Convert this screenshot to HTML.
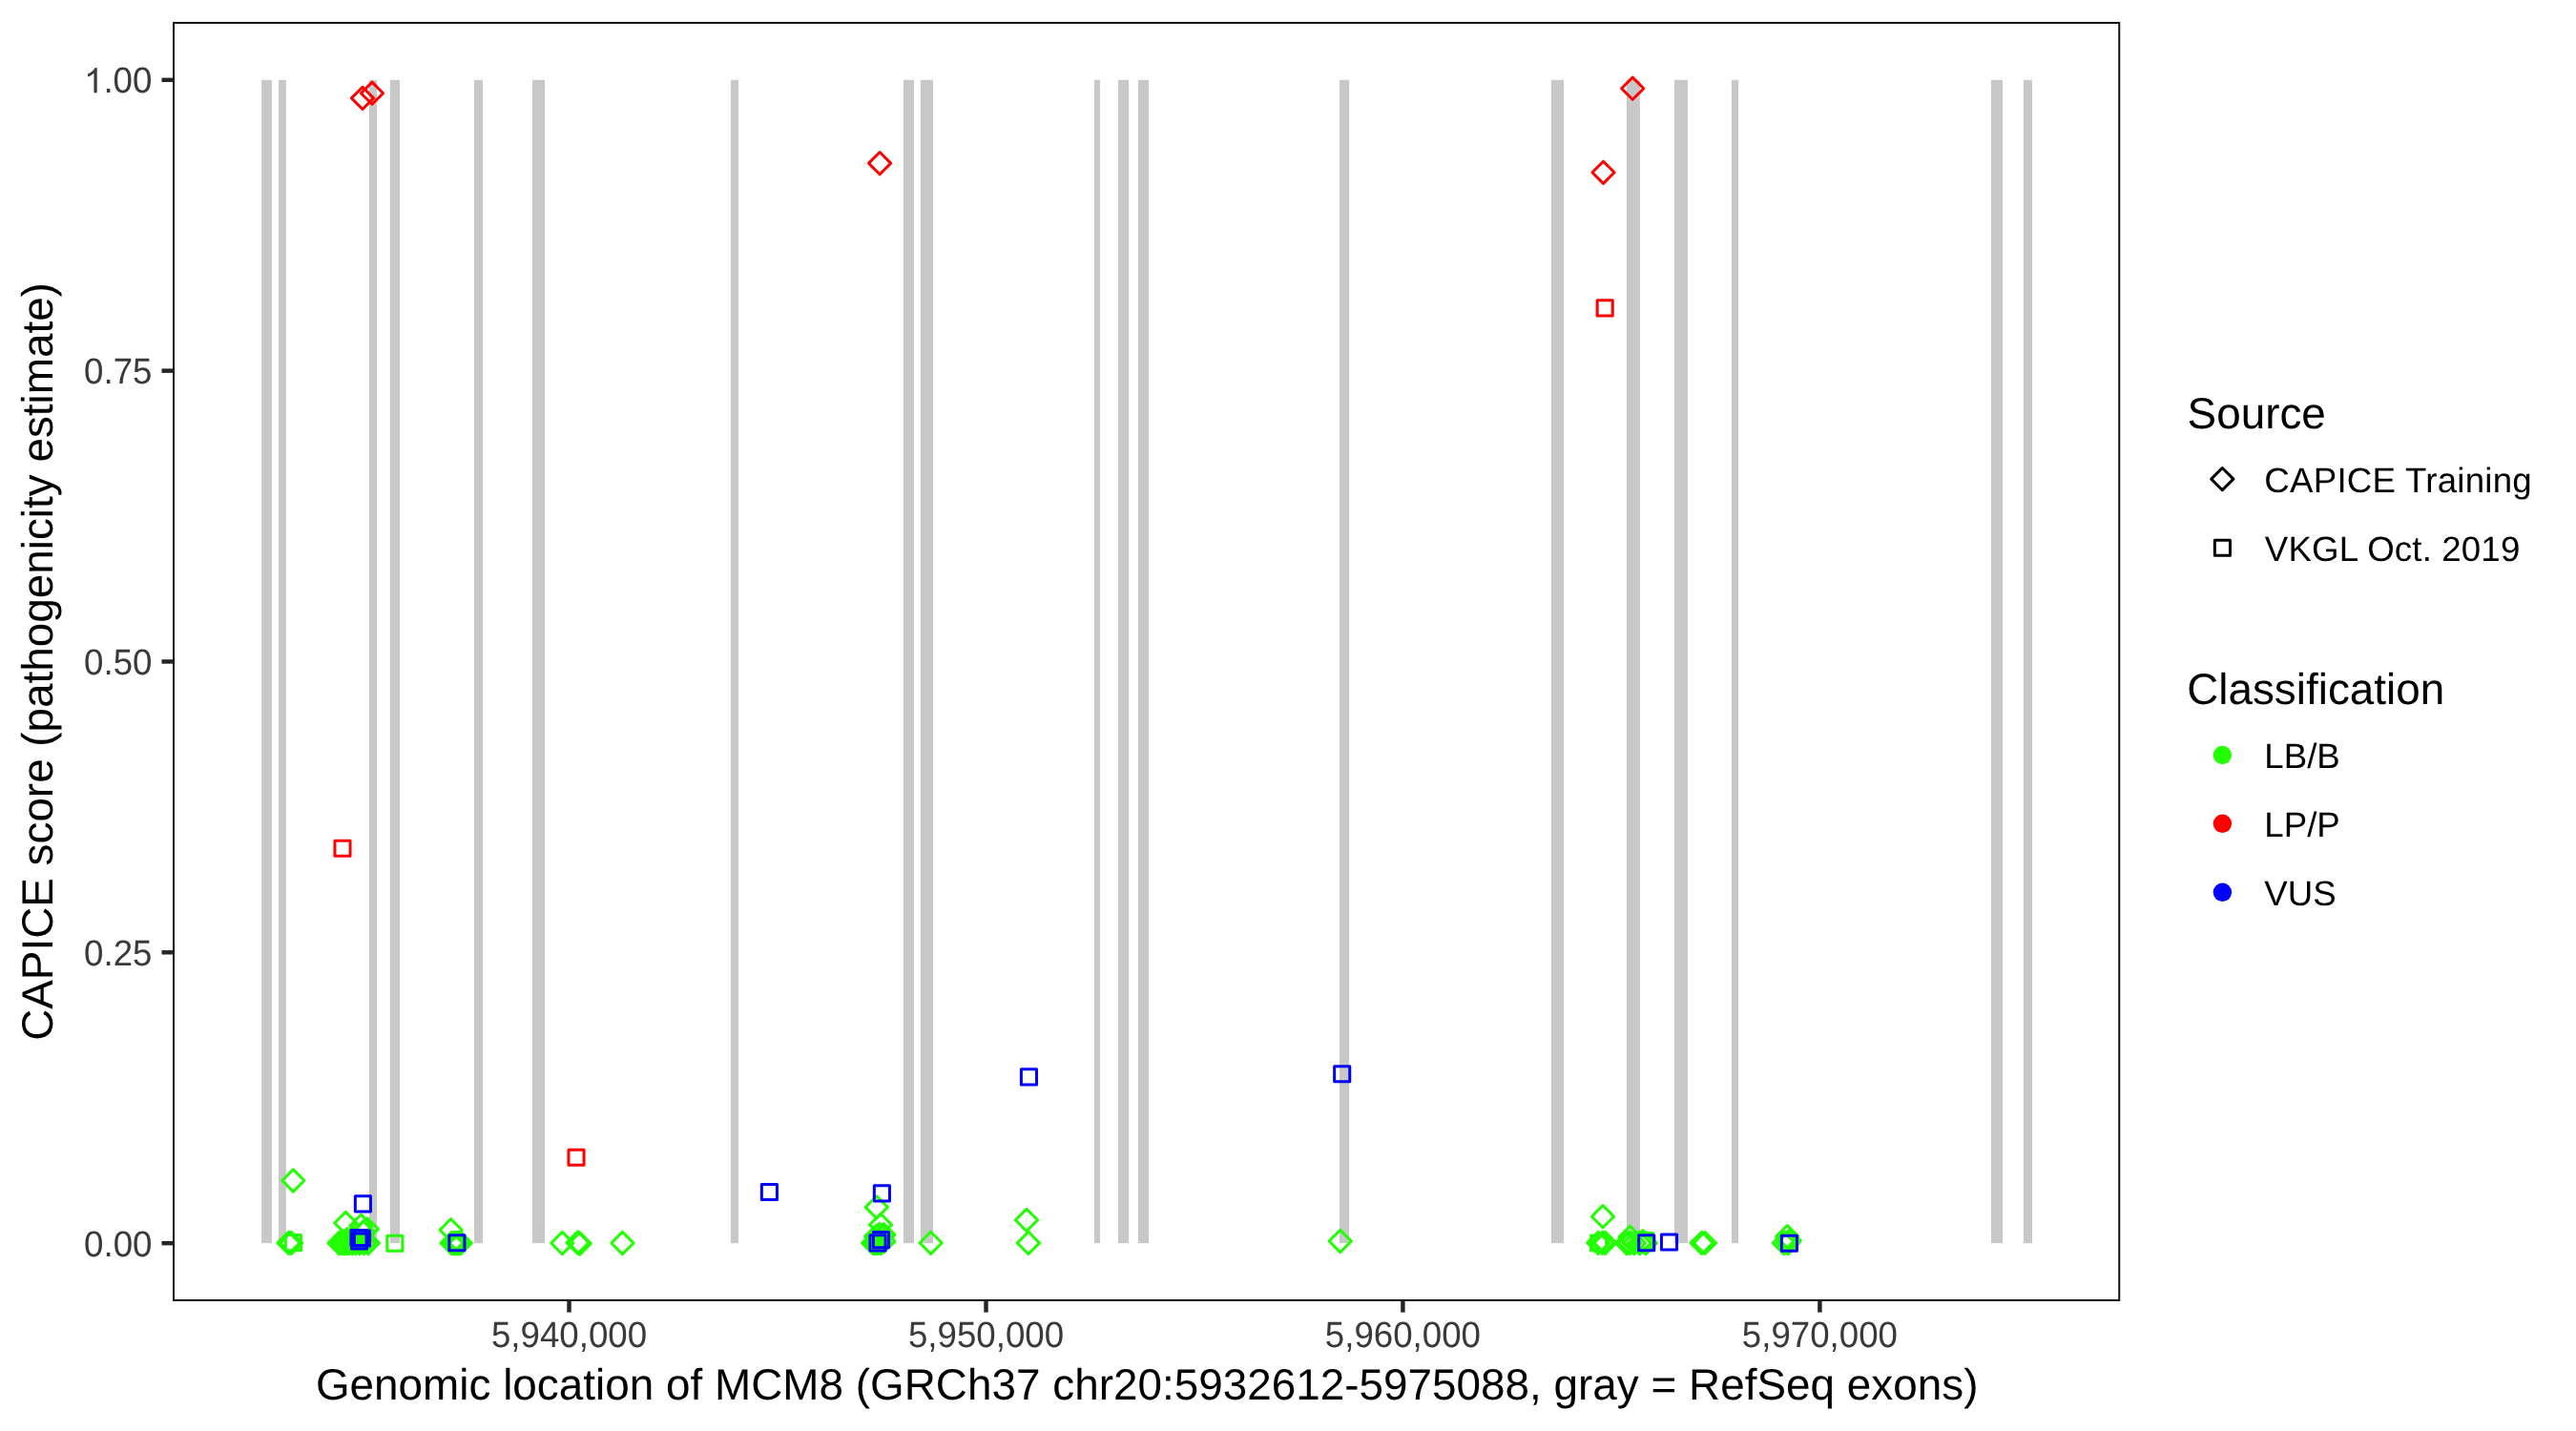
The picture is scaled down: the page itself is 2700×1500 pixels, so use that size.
<!DOCTYPE html><html><head><meta charset="utf-8"><style>html,body{margin:0;padding:0;background:#fff;}svg{display:block;will-change:transform;}text{font-family:"Liberation Sans",sans-serif;text-rendering:geometricPrecision;}</style></head><body>
<svg width="2700" height="1500" viewBox="0 0 2700 1500">
<rect x="0" y="0" width="2700" height="1500" fill="#ffffff"/>
<g fill="#c8c8c8">
<rect x="274.1" y="83.8" width="10.80" height="1219.35"/>
<rect x="292.0" y="83.8" width="7.80" height="1219.35"/>
<rect x="386.9" y="83.8" width="8.20" height="1219.35"/>
<rect x="408.8" y="83.8" width="10.20" height="1219.35"/>
<rect x="496.9" y="83.8" width="9.10" height="1219.35"/>
<rect x="558.0" y="83.8" width="13.00" height="1219.35"/>
<rect x="765.9" y="83.8" width="8.10" height="1219.35"/>
<rect x="946.9" y="83.8" width="11.10" height="1219.35"/>
<rect x="964.9" y="83.8" width="13.10" height="1219.35"/>
<rect x="1146.9" y="83.8" width="6.10" height="1219.35"/>
<rect x="1171.9" y="83.8" width="11.10" height="1219.35"/>
<rect x="1192.9" y="83.8" width="11.10" height="1219.35"/>
<rect x="1403.9" y="83.8" width="10.20" height="1219.35"/>
<rect x="1625.9" y="83.8" width="13.10" height="1219.35"/>
<rect x="1704.9" y="83.8" width="14.00" height="1219.35"/>
<rect x="1754.9" y="83.8" width="14.10" height="1219.35"/>
<rect x="1814.9" y="83.8" width="7.20" height="1219.35"/>
<rect x="2086.9" y="83.8" width="12.10" height="1219.35"/>
<rect x="2120.9" y="83.8" width="9.10" height="1219.35"/>
</g>
<g fill="none" stroke-width="3.0" stroke-linejoin="round">
<path d="M307.30 1225.90L318.90 1237.50L307.30 1249.10L295.70 1237.50Z" stroke="#22ff00"/>
<path d="M302.50 1291.30L314.10 1302.90L302.50 1314.50L290.90 1302.90Z" stroke="#22ff00"/>
<path d="M305.20 1291.30L316.80 1302.90L305.20 1314.50L293.60 1302.90Z" stroke="#22ff00"/>
<path d="M362.30 1270.40L373.90 1282.00L362.30 1293.60L350.70 1282.00Z" stroke="#22ff00"/>
<path d="M378.40 1273.30L390.00 1284.90L378.40 1296.50L366.80 1284.90Z" stroke="#22ff00"/>
<path d="M384.80 1276.80L396.40 1288.40L384.80 1300.00L373.20 1288.40Z" stroke="#22ff00"/>
<path d="M380.70 1279.80L392.30 1291.40L380.70 1303.00L369.10 1291.40Z" stroke="#22ff00"/>
<path d="M363.80 1287.70L375.40 1299.30L363.80 1310.90L352.20 1299.30Z" stroke="#22ff00"/>
<path d="M355.50 1291.40L367.10 1303.00L355.50 1314.60L343.90 1303.00Z" stroke="#22ff00"/>
<path d="M358.00 1291.40L369.60 1303.00L358.00 1314.60L346.40 1303.00Z" stroke="#22ff00"/>
<path d="M360.80 1291.40L372.40 1303.00L360.80 1314.60L349.20 1303.00Z" stroke="#22ff00"/>
<path d="M363.50 1291.40L375.10 1303.00L363.50 1314.60L351.90 1303.00Z" stroke="#22ff00"/>
<path d="M366.10 1291.40L377.70 1303.00L366.10 1314.60L354.50 1303.00Z" stroke="#22ff00"/>
<path d="M369.50 1291.40L381.10 1303.00L369.50 1314.60L357.90 1303.00Z" stroke="#22ff00"/>
<path d="M373.00 1291.40L384.60 1303.00L373.00 1314.60L361.40 1303.00Z" stroke="#22ff00"/>
<path d="M377.00 1291.40L388.60 1303.00L377.00 1314.60L365.40 1303.00Z" stroke="#22ff00"/>
<path d="M381.50 1291.40L393.10 1303.00L381.50 1314.60L369.90 1303.00Z" stroke="#22ff00"/>
<path d="M385.90 1291.40L397.50 1303.00L385.90 1314.60L374.30 1303.00Z" stroke="#22ff00"/>
<path d="M472.60 1277.70L484.20 1289.30L472.60 1300.90L461.00 1289.30Z" stroke="#22ff00"/>
<path d="M473.50 1291.40L485.10 1303.00L473.50 1314.60L461.90 1303.00Z" stroke="#22ff00"/>
<path d="M475.80 1291.40L487.40 1303.00L475.80 1314.60L464.20 1303.00Z" stroke="#22ff00"/>
<path d="M478.10 1291.40L489.70 1303.00L478.10 1314.60L466.50 1303.00Z" stroke="#22ff00"/>
<path d="M480.50 1291.40L492.10 1303.00L480.50 1314.60L468.90 1303.00Z" stroke="#22ff00"/>
<path d="M482.80 1291.40L494.40 1303.00L482.80 1314.60L471.20 1303.00Z" stroke="#22ff00"/>
<path d="M589.30 1291.40L600.90 1303.00L589.30 1314.60L577.70 1303.00Z" stroke="#22ff00"/>
<path d="M605.50 1290.90L617.10 1302.50L605.50 1314.10L593.90 1302.50Z" stroke="#22ff00"/>
<path d="M607.70 1291.90L619.30 1303.50L607.70 1315.10L596.10 1303.50Z" stroke="#22ff00"/>
<path d="M652.40 1291.40L664.00 1303.00L652.40 1314.60L640.80 1303.00Z" stroke="#22ff00"/>
<path d="M918.80 1253.80L930.40 1265.40L918.80 1277.00L907.20 1265.40Z" stroke="#22ff00"/>
<path d="M923.00 1272.30L934.60 1283.90L923.00 1295.50L911.40 1283.90Z" stroke="#22ff00"/>
<path d="M916.00 1291.30L927.60 1302.90L916.00 1314.50L904.40 1302.90Z" stroke="#22ff00"/>
<path d="M915.10 1291.40L926.70 1303.00L915.10 1314.60L903.50 1303.00Z" stroke="#22ff00"/>
<path d="M917.30 1291.40L928.90 1303.00L917.30 1314.60L905.70 1303.00Z" stroke="#22ff00"/>
<path d="M920.10 1291.40L931.70 1303.00L920.10 1314.60L908.50 1303.00Z" stroke="#22ff00"/>
<path d="M923.20 1291.40L934.80 1303.00L923.20 1314.60L911.60 1303.00Z" stroke="#22ff00"/>
<path d="M926.40 1282.70L938.00 1294.30L926.40 1305.90L914.80 1294.30Z" stroke="#22ff00"/>
<path d="M926.40 1289.60L938.00 1301.20L926.40 1312.80L914.80 1301.20Z" stroke="#22ff00"/>
<path d="M918.10 1284.60L929.70 1296.20L918.10 1307.80L906.50 1296.20Z" stroke="#22ff00"/>
<path d="M921.50 1282.40L933.10 1294.00L921.50 1305.60L909.90 1294.00Z" stroke="#22ff00"/>
<path d="M925.40 1283.10L937.00 1294.70L925.40 1306.30L913.80 1294.70Z" stroke="#22ff00"/>
<path d="M975.60 1291.20L987.20 1302.80L975.60 1314.40L964.00 1302.80Z" stroke="#22ff00"/>
<path d="M1076.00 1267.30L1087.60 1278.90L1076.00 1290.50L1064.40 1278.90Z" stroke="#22ff00"/>
<path d="M1077.90 1291.30L1089.50 1302.90L1077.90 1314.50L1066.30 1302.90Z" stroke="#22ff00"/>
<path d="M1404.70 1289.40L1416.30 1301.00L1404.70 1312.60L1393.10 1301.00Z" stroke="#22ff00"/>
<path d="M1680.00 1263.60L1691.60 1275.20L1680.00 1286.80L1668.40 1275.20Z" stroke="#22ff00"/>
<path d="M1675.20 1291.20L1686.80 1302.80L1675.20 1314.40L1663.60 1302.80Z" stroke="#22ff00"/>
<path d="M1679.60 1291.20L1691.20 1302.80L1679.60 1314.40L1668.00 1302.80Z" stroke="#22ff00"/>
<path d="M1682.50 1291.20L1694.10 1302.80L1682.50 1314.40L1670.90 1302.80Z" stroke="#22ff00"/>
<path d="M1705.00 1291.40L1716.60 1303.00L1705.00 1314.60L1693.40 1303.00Z" stroke="#22ff00"/>
<path d="M1708.20 1291.40L1719.80 1303.00L1708.20 1314.60L1696.60 1303.00Z" stroke="#22ff00"/>
<path d="M1712.90 1291.40L1724.50 1303.00L1712.90 1314.60L1701.30 1303.00Z" stroke="#22ff00"/>
<path d="M1708.50 1285.20L1720.10 1296.80L1708.50 1308.40L1696.90 1296.80Z" stroke="#22ff00"/>
<path d="M1718.70 1291.40L1730.30 1303.00L1718.70 1314.60L1707.10 1303.00Z" stroke="#22ff00"/>
<path d="M1721.70 1289.60L1733.30 1301.20L1721.70 1312.80L1710.10 1301.20Z" stroke="#22ff00"/>
<path d="M1724.90 1291.40L1736.50 1303.00L1724.90 1314.60L1713.30 1303.00Z" stroke="#22ff00"/>
<path d="M1783.60 1291.30L1795.20 1302.90L1783.60 1314.50L1772.00 1302.90Z" stroke="#22ff00"/>
<path d="M1786.90 1291.30L1798.50 1302.90L1786.90 1314.50L1775.30 1302.90Z" stroke="#22ff00"/>
<path d="M1869.80 1291.40L1881.40 1303.00L1869.80 1314.60L1858.20 1303.00Z" stroke="#22ff00"/>
<path d="M1874.10 1291.40L1885.70 1303.00L1874.10 1314.60L1862.50 1303.00Z" stroke="#22ff00"/>
<path d="M1873.30 1284.50L1884.90 1296.10L1873.30 1307.70L1861.70 1296.10Z" stroke="#22ff00"/>
<path d="M1875.80 1288.90L1887.40 1300.50L1875.80 1312.10L1864.20 1300.50Z" stroke="#22ff00"/>
<rect x="299.35" y="1294.55" width="16.10" height="16.10" stroke="#22ff00"/>
<rect x="405.75" y="1295.15" width="16.10" height="16.10" stroke="#22ff00"/>
<rect x="1667.55" y="1294.95" width="16.10" height="16.10" stroke="#22ff00"/>
<rect x="1716.55" y="1292.55" width="16.10" height="16.10" stroke="#22ff00"/>
<path d="M380.00 91.30L391.60 102.90L380.00 114.50L368.40 102.90Z" stroke="#ff0000"/>
<path d="M390.00 86.10L401.60 97.70L390.00 109.30L378.40 97.70Z" stroke="#ff0000"/>
<path d="M922.10 159.50L933.70 171.10L922.10 182.70L910.50 171.10Z" stroke="#ff0000"/>
<path d="M1711.20 81.10L1722.80 92.70L1711.20 104.30L1699.60 92.70Z" stroke="#ff0000"/>
<path d="M1680.50 169.20L1692.10 180.80L1680.50 192.40L1668.90 180.80Z" stroke="#ff0000"/>
<rect x="1674.15" y="314.85" width="16.10" height="16.10" stroke="#ff0000"/>
<rect x="350.95" y="881.25" width="16.10" height="16.10" stroke="#ff0000"/>
<rect x="595.95" y="1205.15" width="16.10" height="16.10" stroke="#ff0000"/>
<rect x="1070.40" y="1120.85" width="16.10" height="16.10" stroke="#0000ff"/>
<rect x="1398.65" y="1117.75" width="16.10" height="16.10" stroke="#0000ff"/>
<rect x="798.35" y="1241.45" width="16.10" height="16.10" stroke="#0000ff"/>
<rect x="916.35" y="1242.85" width="16.10" height="16.10" stroke="#0000ff"/>
<rect x="372.35" y="1253.85" width="16.10" height="16.10" stroke="#0000ff"/>
<rect x="367.95" y="1289.45" width="16.10" height="16.10" stroke="#0000ff"/>
<rect x="371.45" y="1289.95" width="16.10" height="16.10" stroke="#0000ff"/>
<rect x="368.45" y="1292.95" width="16.10" height="16.10" stroke="#0000ff"/>
<rect x="470.85" y="1294.65" width="16.10" height="16.10" stroke="#0000ff"/>
<rect x="915.45" y="1291.60" width="16.10" height="16.10" stroke="#0000ff"/>
<rect x="911.95" y="1294.85" width="16.10" height="16.10" stroke="#0000ff"/>
<rect x="1717.65" y="1294.65" width="16.10" height="16.10" stroke="#0000ff"/>
<rect x="1741.45" y="1293.95" width="16.10" height="16.10" stroke="#0000ff"/>
<rect x="1867.35" y="1295.15" width="16.10" height="16.10" stroke="#0000ff"/>
</g>
<rect x="182.0" y="23.95" width="2039.25" height="1339.02" fill="none" stroke="#111" stroke-width="2"/>
<g stroke="#252525" stroke-width="4.45">
<line x1="169.5" y1="1303.15" x2="182" y2="1303.15"/>
<line x1="169.5" y1="998.31" x2="182" y2="998.31"/>
<line x1="169.5" y1="693.48" x2="182" y2="693.48"/>
<line x1="169.5" y1="388.64" x2="182" y2="388.64"/>
<line x1="169.5" y1="83.80" x2="182" y2="83.80"/>
<line x1="596.5" y1="1363" x2="596.5" y2="1375.6"/>
<line x1="1033.5" y1="1363" x2="1033.5" y2="1375.6"/>
<line x1="1470.4" y1="1363" x2="1470.4" y2="1375.6"/>
<line x1="1907.4" y1="1363" x2="1907.4" y2="1375.6"/>
</g>
<g fill="#3a3a3a" font-size="36.67" text-anchor="end">
<text transform="translate(159.4 1316.60) scale(1 1.04)">0.00</text>
<text transform="translate(159.4 1011.76) scale(1 1.04)">0.25</text>
<text transform="translate(159.4 706.93) scale(1 1.04)">0.50</text>
<text transform="translate(159.4 402.09) scale(1 1.04)">0.75</text>
<text transform="translate(159.4 97.25) scale(1 1.04)">.00</text>
<path transform="translate(88.03 97.25) scale(0.017905 -0.017905)" d="M763 0H583V1147Q518 1085 412.5 1023T223 930V1104Q375 1175 489 1276T650 1472H763V0Z"/>
</g>
<g fill="#3a3a3a" font-size="36.67" text-anchor="middle">
<text transform="translate(596.5 1412.3) scale(1 1.04)">5,940,000</text>
<text transform="translate(1033.5 1412.3) scale(1 1.04)">5,950,000</text>
<text transform="translate(1470.4 1412.3) scale(1 1.04)">5,960,000</text>
<text transform="translate(1907.4 1412.3) scale(1 1.04)">5,970,000</text>
</g>
<text x="330.9" y="1467.0" font-size="45.83" fill="#000" textLength="1742.5">Genomic location of MCM8 (GRCh37 chr20:5932612-5975088, gray = RefSeq exons)</text>
<text transform="translate(54.5 1090.8) rotate(-90)" font-size="45.83" fill="#000">CAPICE score (pathogenicity estimate)</text>
<text x="2292.6" y="448.8" font-size="45.83" fill="#000">Source</text>
<g fill="none" stroke="#000" stroke-width="3.0" stroke-linejoin="round"><path d="M2329.30 490.50L2340.90 502.10L2329.30 513.70L2317.70 502.10Z" stroke="#000"/><rect x="2321.35" y="566.20" width="16.10" height="16.10" stroke="#000"/></g>
<text x="2373.3" y="516" font-size="36.67" fill="#000" textLength="280.4">CAPICE Training</text>
<text x="2373.8" y="588.3" font-size="36.67" fill="#000" textLength="267.5">VKGL Oct. 2019</text>
<text x="2292.2" y="738.2" font-size="45.83" fill="#000">Classification</text>
<circle cx="2329.4" cy="791.5" r="9.7" fill="#22ff00"/>
<text x="2373.3" y="805.3" font-size="36.67" fill="#000">LB/B</text>
<circle cx="2329.4" cy="863.3" r="9.7" fill="#ff0000"/>
<text x="2373.3" y="877.4" font-size="36.67" fill="#000">LP/P</text>
<circle cx="2329.4" cy="935.3" r="9.7" fill="#0000ff"/>
<text x="2373.3" y="949.2" font-size="36.67" fill="#000">VUS</text>
</svg></body></html>
